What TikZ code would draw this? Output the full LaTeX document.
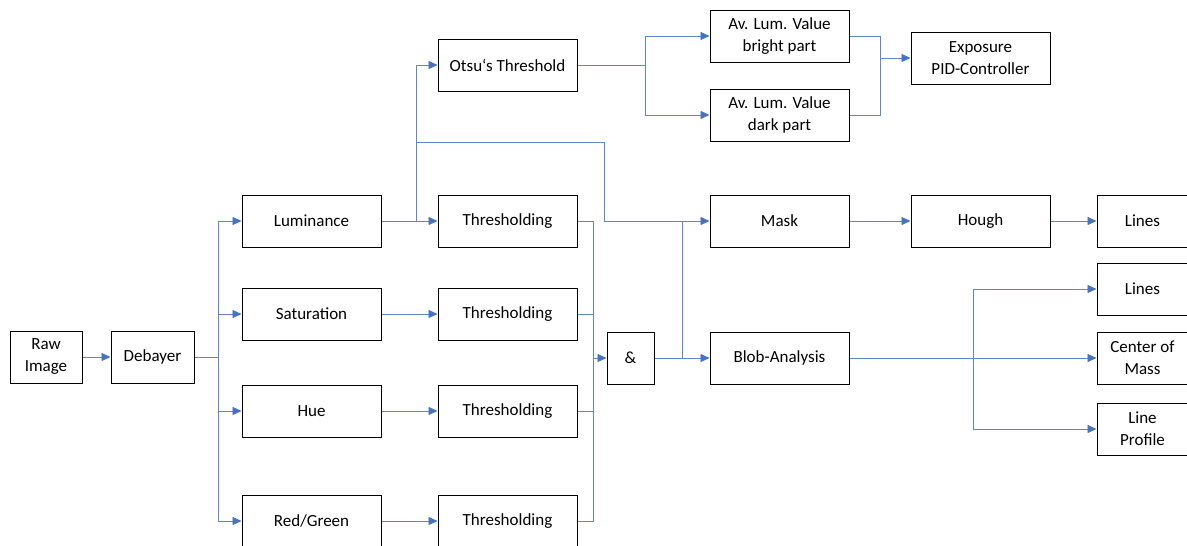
\documentclass[tikz,border=0pt]{standalone}
\usepackage{fontspec}
\setmainfont{Carlito}
\usetikzlibrary{arrows.meta}
\definecolor{ln}{HTML}{4472C4}
\begin{document}
\begin{tikzpicture}[x=1pt,y=-1pt,
 box/.style={draw=black,line width=1pt,minimum width=139pt,minimum height=52pt,inner sep=0pt,align=center,font=\fontsize{17}{22}\selectfont},
 con/.style={draw=ln!85,line width=0.8pt},
 arr/.style={con,-{Triangle[length=9pt,width=8pt,fill=ln,color=ln]}}]
\useasboundingbox (0,0) rectangle (1187,546);
\node[box,minimum width=72pt] (raw) at (46,357) {Raw\\Image};
\node[box,minimum width=83pt] (deb) at (152.5,357) {Debayer};
\node[box] (lum) at (311.5,221) {Luminance};
\node[box] (sat) at (311.5,314) {Saturation};
\node[box] (hue) at (311.5,411) {Hue};
\node[box] (rg) at (311.5,521) {Red/Green};
\node[box] (t1) at (507.5,221) {Thresholding};
\node[box] (t2) at (507.5,314) {Thresholding};
\node[box] (t3) at (507.5,411) {Thresholding};
\node[box] (t4) at (507.5,521) {Thresholding};
\node[box] (otsu) at (507.5,65) {Otsu‘s Threshold};
\node[box,minimum width=47pt] (amp) at (630.5,358) {\&};
\node[box] (bright) at (779.5,36) {Av. Lum. Value\\bright part};
\node[box] (dark) at (779.5,115) {Av. Lum. Value\\dark part};
\node[box] (exp) at (980.5,58) {Exposure\\PID-Controller};
\node[box] (mask) at (779.5,221) {Mask};
\node[box] (hough) at (980.5,221) {Hough};
\node[box,minimum width=91pt] (lines1) at (1142.5,221) {Lines};
\node[box] (blob) at (779.5,358) {Blob-Analysis};
\node[box,minimum width=91pt] (lines2) at (1142.5,289) {Lines};
\node[box,minimum width=91pt] (com) at (1142.5,358) {Center of\\Mass};
\node[box,minimum width=91pt] (prof) at (1142.5,429) {Line\\Profile};
% connectors
\draw[arr] (raw) -- (deb);
\coordinate (j1) at (218,357);
\draw[con] (deb.east) -- (j1);
\foreach \n in {lum,sat,hue,rg} \draw[arr] (j1) |- (\n.west);
\draw[arr] (lum) -- (t1);
\draw[arr] (sat) -- (t2);
\draw[arr] (hue) -- (t3);
\draw[arr] (rg) -- (t4);
\coordinate (j2) at (416,221);
\coordinate (k1) at (416,142);
\coordinate (k2) at (604,142);
\coordinate (k3) at (604,221);
\draw[arr] (j2) |- (otsu.west);
\draw[arr] (k1) -- (k2) -- (k3) -- (mask.west);
\coordinate (j3) at (593,358);
\foreach \t in {t1,t2,t3,t4} \draw[con] (\t.east) -| (j3);
\draw[arr] (j3) -- (amp.west);
\coordinate (j4) at (682,358);
\draw[arr] (amp.east) -- (blob.west);
\draw[con] (j4) -- (j4 |- mask.west);
\coordinate (j5) at (645,65);
\draw[con] (otsu.east) -- (j5);
\draw[arr] (j5) |- (bright.west);
\draw[arr] (j5) |- (dark.west);
\coordinate (j6) at (880,58);
\draw[con] (bright.east) -| (j6);
\draw[con] (dark.east) -| (j6);
\draw[arr] (j6) -- (exp.west);
\draw[arr] (mask) -- (hough);
\draw[arr] (hough) -- (lines1);
\coordinate (j7) at (973,358);
\draw[con] (blob.east) -- (j7);
\foreach \n in {lines2,com,prof} \draw[arr] (j7) |- (\n.west);
\end{tikzpicture}
\end{document}
